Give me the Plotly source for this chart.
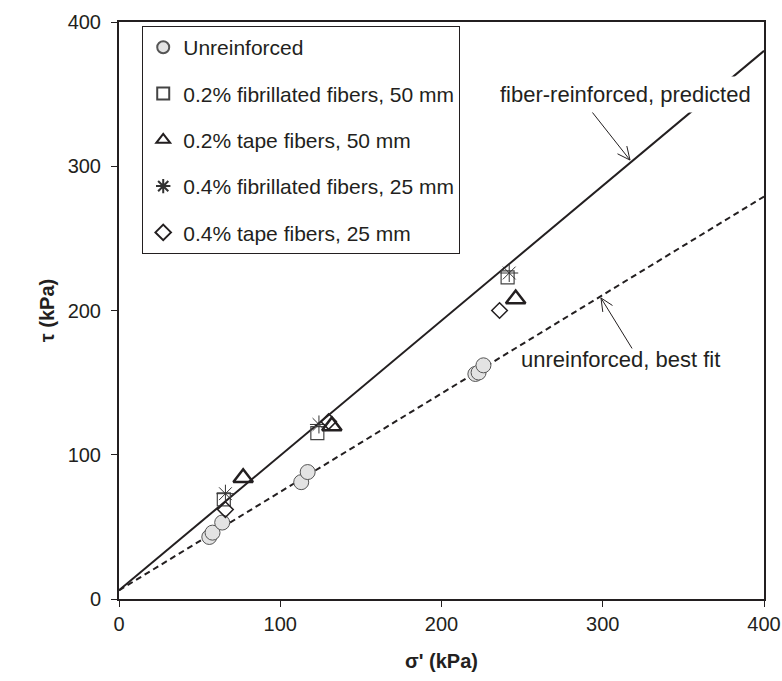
import plotly.graph_objects as go

# ---- data ----
unr_x = [56, 58, 64, 113, 117, 221, 223, 226]
unr_y = [43, 46, 53, 81, 88, 156, 157, 162]

fib02_x = [65, 123, 241]
fib02_y = [69, 115, 223]

tape02_x = [77, 132, 246]
tape02_y = [84, 120, 208]

fib04_x = [66, 124, 242]
fib04_y = [73, 121, 226]

tape04_x = [66, 130, 236]
tape04_y = [62, 123, 200]

line_x = [0, 400]
pred_y = [6, 380]     # fiber-reinforced, predicted
fit_y = [6, 279]      # unreinforced, best fit

x_ticks = [0, 100, 200, 300, 400]
y_ticks = [0, 100, 200, 300, 400]

INK = "#231f20"
FONT = "Liberation Sans, Arial, Helvetica, sans-serif"

fig = go.Figure()

fig.add_trace(go.Scatter(x=line_x, y=pred_y, mode="lines", showlegend=False,
                         line=dict(color=INK, width=2)))
fig.add_trace(go.Scatter(x=line_x, y=fit_y, mode="lines", showlegend=False,
                         line=dict(color=INK, width=2, dash="6px,4px")))

fig.add_trace(go.Scatter(x=unr_x, y=unr_y, mode="markers", name="Unreinforced",
                         legendgroup="a",
                         marker=dict(symbol="circle", size=15, color="#e3e3e3",
                                     line=dict(color="#555555", width=1))))
fig.add_trace(go.Scatter(x=fib02_x, y=fib02_y, mode="markers",
                         name="0.2% fibrillated fibers, 50 mm", legendgroup="b",
                         marker=dict(symbol="square-open", size=13, color="#444444",
                                     line=dict(width=1.2))))
fig.add_trace(go.Scatter(x=tape02_x, y=tape02_y, mode="markers",
                         name="0.2% tape fibers, 50 mm", legendgroup="c",
                         marker=dict(symbol="triangle-up-open", size=17, color=INK,
                                     line=dict(width=2.5))))
fig.add_trace(go.Scatter(x=fib04_x, y=fib04_y, mode="markers",
                         name="0.4% fibrillated fibers, 25 mm", legendgroup="d",
                         marker=dict(symbol="asterisk-open", size=15, color="#333333",
                                     line=dict(width=1))))
fig.add_trace(go.Scatter(x=tape04_x, y=tape04_y, mode="markers",
                         name="0.4% tape fibers, 25 mm", legendgroup="e",
                         marker=dict(symbol="diamond-open", size=12, color=INK,
                                     line=dict(width=1.5))))

axis_common = dict(
    showline=True, linecolor=INK, linewidth=2, mirror=True,
    showgrid=False, zeroline=False, automargin=False,
    ticks="outside", ticklen=6, tickwidth=1, tickcolor=INK,
    tickfont=dict(family=FONT, size=20, color=INK),
    tickmode="array",
)

fig.update_xaxes(range=[0, 400], tickvals=x_ticks,
                 title=dict(text="<b>σ' (kPa)</b>", font=dict(family=FONT, size=20, color=INK),
                            standoff=20),
                 **axis_common)
fig.update_yaxes(range=[0, 400], tickvals=y_ticks, ticklabelstandoff=6,
                 title=dict(text="<b>τ (kPa)</b>", font=dict(family=FONT, size=20, color=INK),
                            standoff=8),
                 **axis_common)

# annotation arrows (shaft + open V head) and labels
def arrow(x, y, ax, ay):
    fig.add_annotation(x=x, y=y, text="", showarrow=True, ax=ax, ay=ay,
                       arrowhead=0, arrowwidth=1, arrowcolor=INK)

arrow(316.9, 304.3, -45, -57)
arrow(316.9, 304.3, -3.5, -15.5)
arrow(316.9, 304.3, -14, -7)
fig.add_annotation(x=314.4, y=349.4, text="fiber-reinforced, predicted", showarrow=False,
                   font=dict(family=FONT, size=22, color=INK), bgcolor="white", borderpad=5)

arrow(298.9, 208.7, 32, 52)
arrow(298.9, 208.7, 2, 15.5)
arrow(298.9, 208.7, 13, 8.5)
fig.add_annotation(x=311.3, y=165.7, text="unreinforced, best fit", showarrow=False,
                   font=dict(family=FONT, size=22, color=INK))

fig.update_layout(
    width=782, height=681, autosize=False,
    margin=dict(l=119, r=18, t=22, b=82),
    plot_bgcolor="white", paper_bgcolor="white",
    font=dict(family=FONT, color=INK),
    legend=dict(x=0.036, y=0.993, xanchor="left", yanchor="top",
                bordercolor=INK, borderwidth=1, bgcolor="white",
                font=dict(family=FONT, size=21, color=INK),
                traceorder="grouped", tracegroupgap=16, itemsizing="constant"),
    showlegend=True,
)

fig.write_html("out.html")
